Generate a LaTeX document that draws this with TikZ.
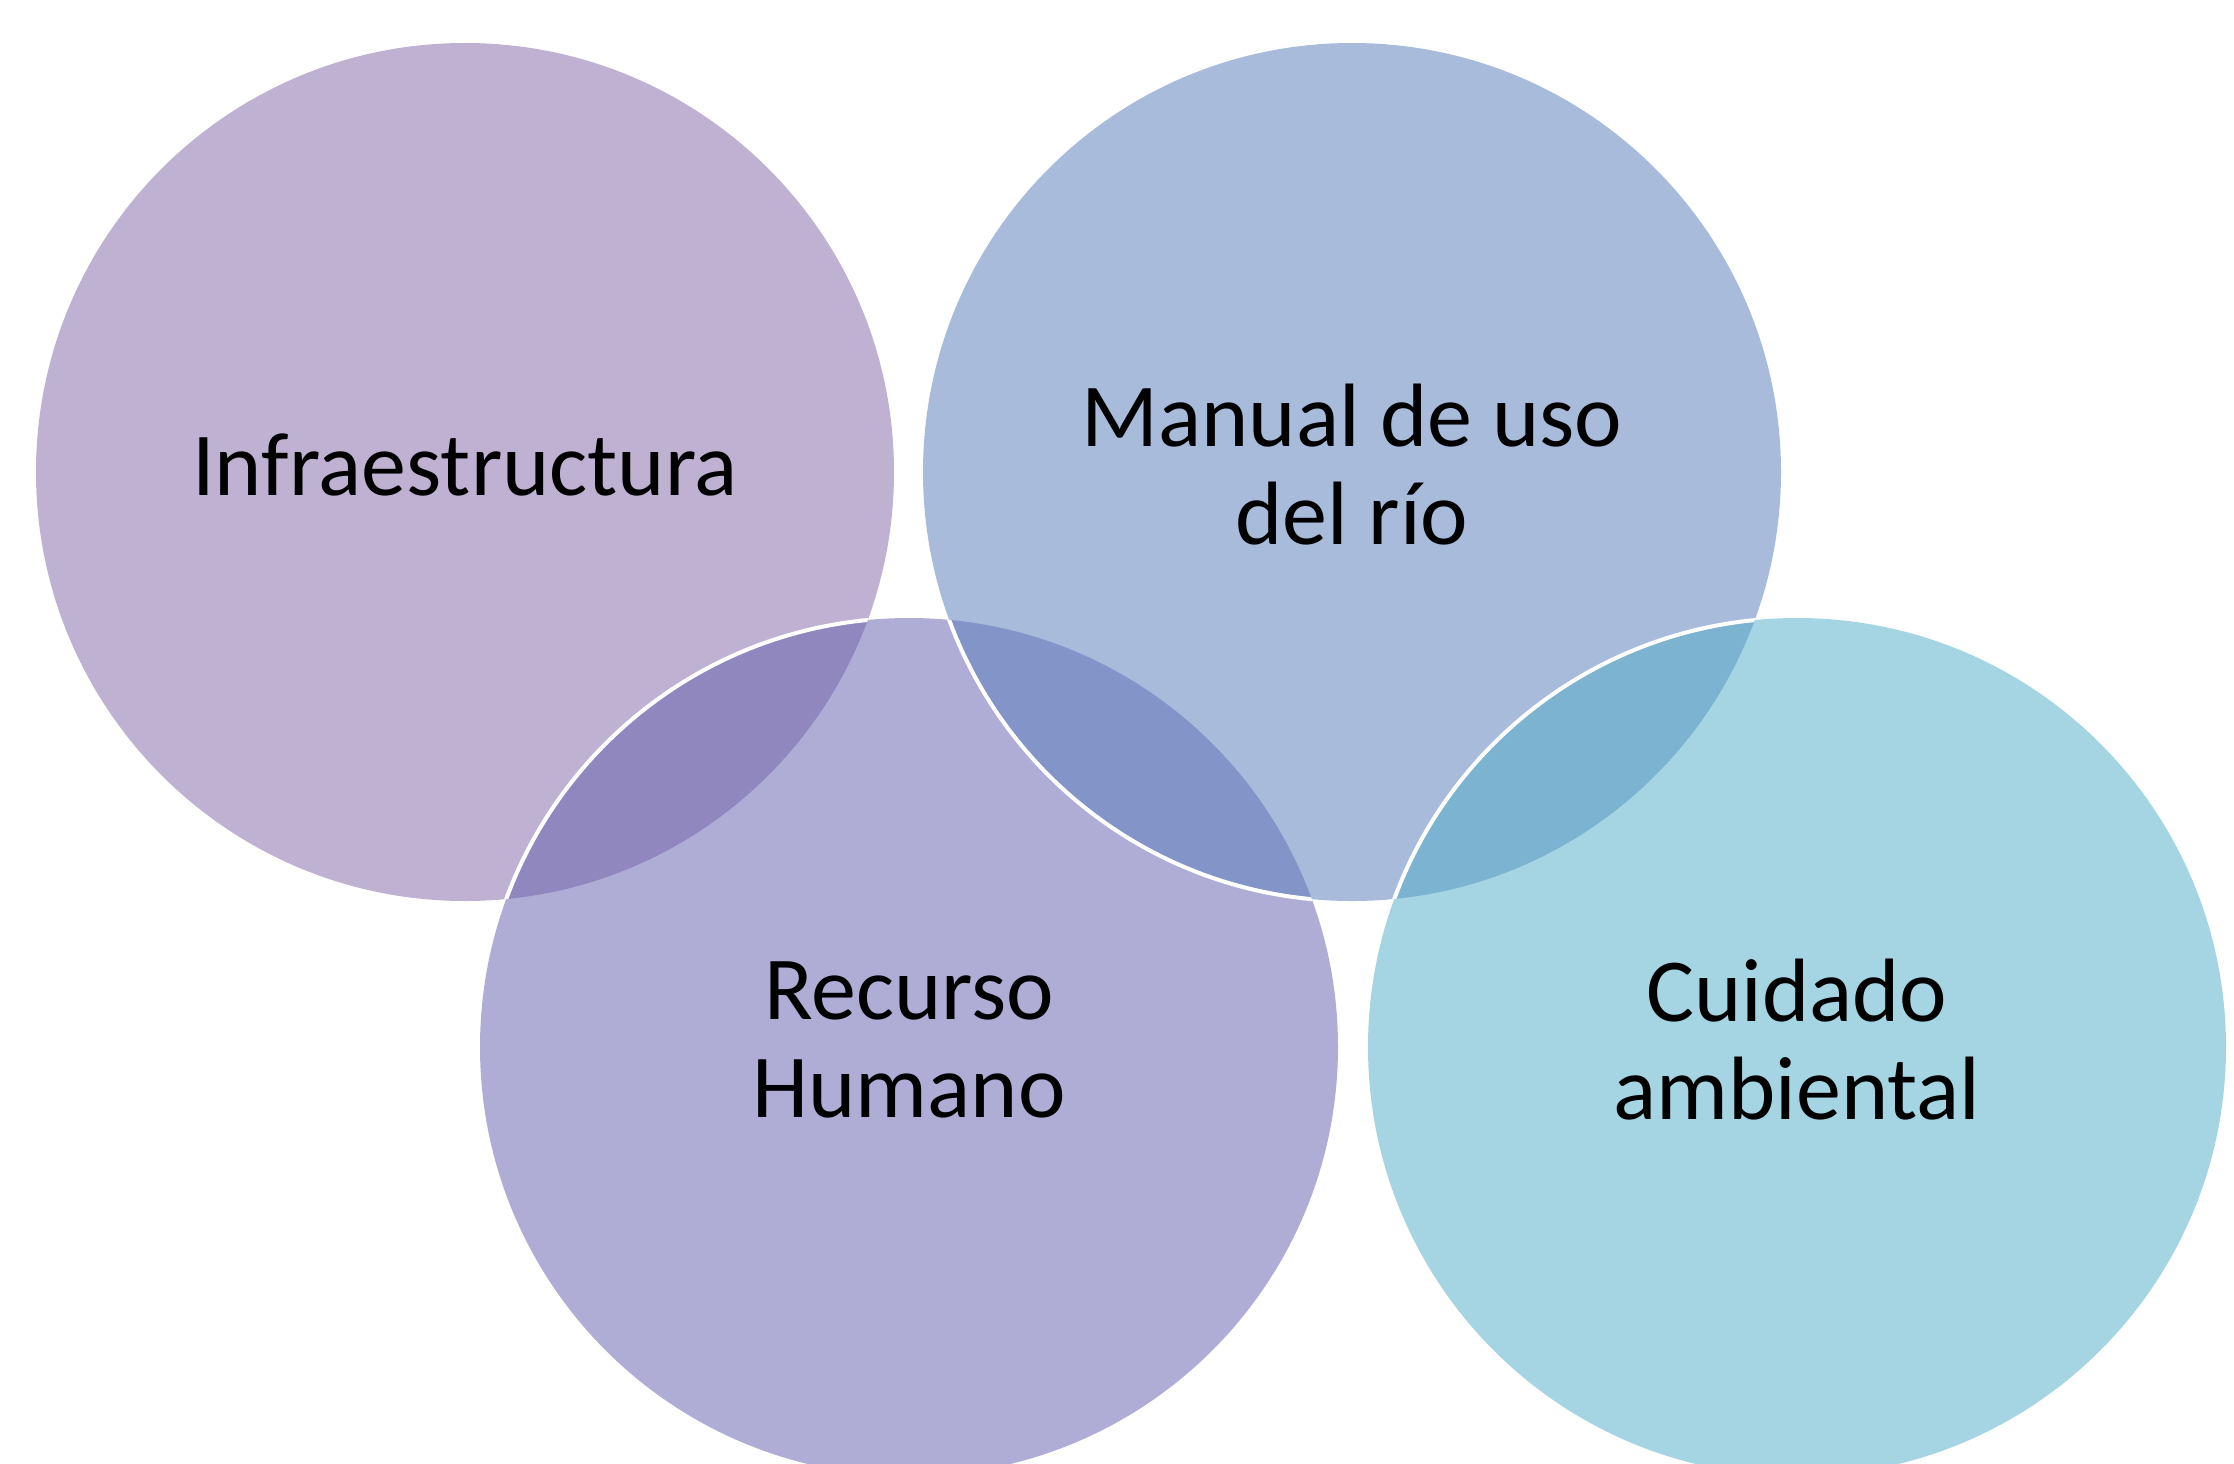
\documentclass[tikz,border=0pt]{standalone}
\usepackage{fontspec}
\setmainfont{Carlito}
\definecolor{cA}{HTML}{BFB1D1}
\definecolor{cB}{HTML}{A9BBDB}
\definecolor{cC}{HTML}{AFADD5}
\definecolor{cD}{HTML}{A5D5E2}
\definecolor{oAC}{HTML}{9087BF}
\definecolor{oBC}{HTML}{8294C8}
\definecolor{oBD}{HTML}{7BB3D0}
\tikzset{
  lbl/.style={align=center, text=black, inner sep=0pt, yshift=3.5pt, font=\fontsize{45}{49}\selectfont},
  rim/.style={draw=white, line width=2pt}
}
\newcommand{\rad}{214.5pt}
\begin{document}
\begin{tikzpicture}[x=0.5pt, y=-0.5pt]
\useasboundingbox (0,0) rectangle (2234,1463);
\fill[white] (0,0) rectangle (2234,1463);
\clip (0,0) rectangle (2234,1463);
\coordinate (A) at (465,472);
\coordinate (B) at (1352,472);
\coordinate (C) at (909,1047);
\coordinate (D) at (1797,1047);
% circles
\fill[cA] (A) circle[radius=\rad];
\fill[cC] (C) circle[radius=\rad];
\fill[cB] (B) circle[radius=\rad];
\fill[cD] (D) circle[radius=\rad];
% overlaps
\begin{scope}\clip (A) circle[radius=\rad]; \fill[oAC] (C) circle[radius=\rad];\end{scope}
\begin{scope}\clip (C) circle[radius=\rad]; \fill[oBC] (B) circle[radius=\rad];\end{scope}
\begin{scope}\clip (B) circle[radius=\rad]; \fill[oBD] (D) circle[radius=\rad];\end{scope}
% white rims of the upper circle inside the lower one
\begin{scope}\clip (A) circle[radius=\rad]; \draw[rim] (C) circle[radius=\rad];\end{scope}
\begin{scope}\clip (C) circle[radius=\rad]; \draw[rim] (B) circle[radius=\rad];\end{scope}
\begin{scope}\clip (B) circle[radius=\rad]; \draw[rim] (D) circle[radius=\rad];\end{scope}
% labels
\node[lbl] (tA) at (A) {Infraestructura};
\node[lbl] (tB) at (B) {Manual de uso\\del río};
\node[lbl] (tC) at (C) {Recurso\\Humano};
\node[lbl] (tD) at (D) {Cuidado\\ambiental};
\end{tikzpicture}
\end{document}
